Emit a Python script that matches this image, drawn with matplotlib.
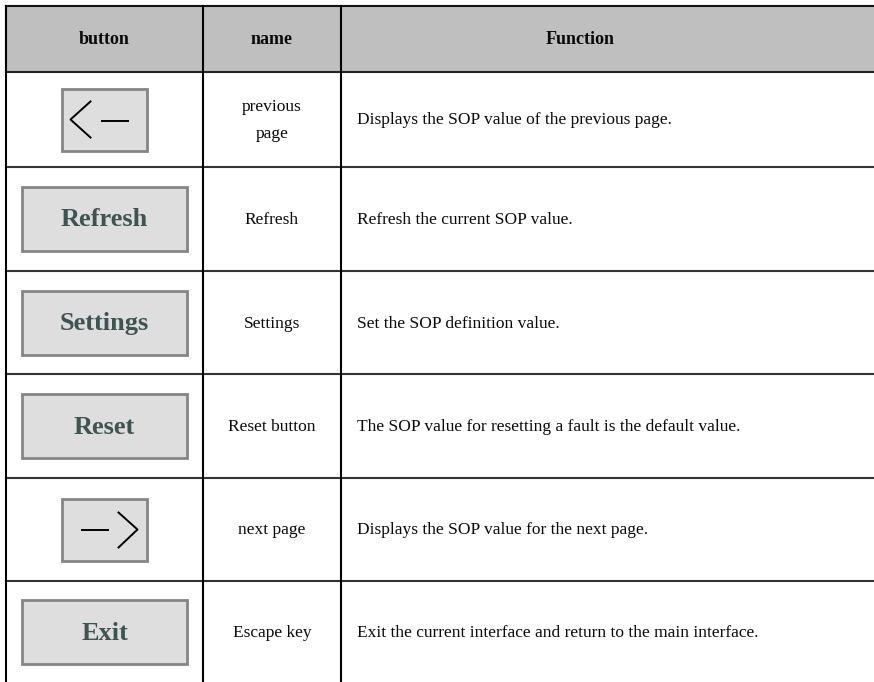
import matplotlib
matplotlib.use("Agg")
import matplotlib.pyplot as plt
from matplotlib.patches import Rectangle
from matplotlib.lines import Line2D

headers = ["button", "name", "Function"]
buttons = ["<-", "Refresh", "Settings", "Reset", "->", "Exit"]
names = ["previous\npage", "Refresh", "Settings", "Reset button", "next page", "Escape key"]
functions = [
    "Displays the SOP value of the previous page.",
    "Refresh the current SOP value.",
    "Set the SOP definition value.",
    "The SOP value for resetting a fault is the default value.",
    "Displays the SOP value for the next page.",
    "Exit the current interface and return to the main interface.",
]

W, H = 874, 682
fig = plt.figure(figsize=(W / 100, H / 100), dpi=100)
ax = fig.add_axes([0, 0, 1, 1])
ax.set_xlim(0, W)
ax.set_ylim(H, 0)
ax.axis("off")

x0, x1, x2, xr = 6, 203, 341, 874
top, hbot = 6, 72
row_edges = [72, 167, 271, 374, 478, 581, 700]

serif = "Liberation Serif"

# header
ax.add_patch(Rectangle((x0, top), xr - x0, hbot - top, facecolor="#bfbfbf", edgecolor="none", zorder=1))
hx = [(x0 + x1) / 2, (x1 + x2) / 2, 580]
for t, x in zip(headers, hx):
    ax.text(x, (top + hbot) / 2 + 1, t, ha="center", va="center", fontsize=13,
            fontweight="bold", family=serif, color="#0a0a0a", zorder=3)

# grid lines
lw = 1.5
ax.add_line(Line2D([x0, xr], [top, top], color="#111111", lw=lw, zorder=4))
for i, y in enumerate(row_edges[:-1]):
    ax.add_line(Line2D([x0, xr], [y, y], color="#333333" if i else "#222222", lw=lw, zorder=4))
for x in (x0, x1, x2):
    ax.add_line(Line2D([x, x], [top, H], color="#000000", lw=lw, zorder=4))

btn_face = "#dedede"
btn_edge = "#858585"
btn_text = "#3d5450"

for i, (b, n, f) in enumerate(zip(buttons, names, functions)):
    ya, yb = row_edges[i], row_edges[i + 1]
    if i == len(buttons) - 1:
        yc = 632
    else:
        yc = (ya + yb) / 2
    xc = (x0 + x1) / 2
    if b in ("<-", "->"):
        bw, bh = 85, 62
        ax.add_patch(Rectangle((xc - bw / 2, yc - bh / 2), bw, bh, facecolor=btn_face,
                               edgecolor=btn_edge, lw=2.0, zorder=2))
        if b == "<-":
            ax.add_line(Line2D([xc - 14, xc - 34, xc - 14], [yc - 18, yc, yc + 18], color="black", lw=1.4, zorder=3))
            ax.add_line(Line2D([xc - 3, xc + 23], [yc + 1, yc + 1], color="black", lw=1.4, zorder=3))
        else:
            ax.add_line(Line2D([xc - 23, xc + 3], [yc, yc], color="black", lw=1.4, zorder=3))
            ax.add_line(Line2D([xc + 14, xc + 33, xc + 14], [yc - 17, yc, yc + 18], color="black", lw=1.4, zorder=3))
    else:
        bw, bh = 165, 64
        ax.add_patch(Rectangle((xc - bw / 2, yc - bh / 2), bw, bh, facecolor=btn_face,
                               edgecolor=btn_edge, lw=2.0, zorder=2))
        ax.text(xc, yc + 1, b, ha="center", va="center", fontsize=19, fontweight="bold",
                family=serif, color=btn_text, zorder=3)
    ax.text((x1 + x2) / 2, yc + 1, n, ha="center", va="center", fontsize=12.5, family=serif,
            color="#0a0a0a", linespacing=1.85, zorder=3)
    ax.text(357, yc + 1, f, ha="left", va="center", fontsize=12.5, family=serif,
            color="#0a0a0a", zorder=3)

fig.savefig("out.png", dpi=100, facecolor="white")
